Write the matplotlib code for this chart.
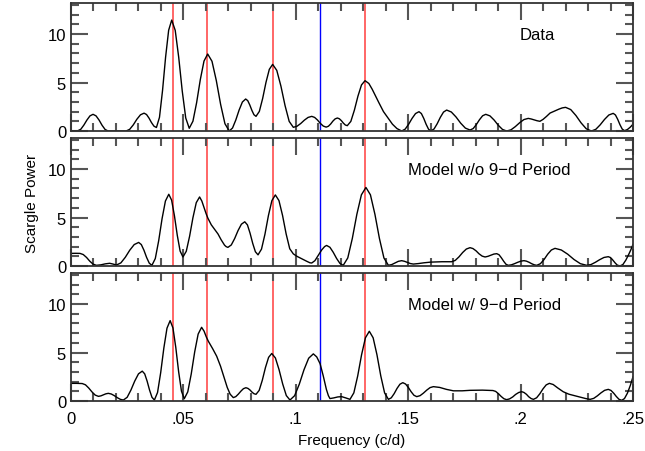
import matplotlib
matplotlib.use("Agg")
import matplotlib.pyplot as plt
from matplotlib.ticker import MultipleLocator, FixedFormatter, FixedLocator

plt.rcParams['font.family'] = ['Liberation Sans', 'DejaVu Sans']

# frequency (c/d) / Scargle power pairs
data_pts = [
    (0.000, 0.03), (0.003, 0.02), (0.00436, 0.18), (0.00572, 0.61), (0.00708, 1.13),
    (0.00844, 1.56), (0.0098, 1.72), (0.01114, 1.56), (0.01248, 1.13), (0.01382, 0.59),
    (0.01516, 0.16), (0.0165, 0.0), (0.0245, 0.0), (0.0261, 0.17), (0.0277, 0.63),
    (0.0293, 1.21), (0.0309, 1.67), (0.0325, 1.84), (0.0336, 1.70), (0.0347, 1.33),
    (0.0358, 0.87), (0.0369, 0.50), (0.038, 0.36), (0.03936, 1.41), (0.04072, 4.18),
    (0.04208, 7.62), (0.04344, 10.39), (0.0448, 11.44), (0.04636, 10.38), (0.04792, 7.59),
    (0.04948, 4.13), (0.05104, 1.34), (0.0526, 0.28), (0.05424, 1.01), (0.05588, 2.92),
    (0.05752, 5.30), (0.05916, 7.21), (0.0608, 7.94), (0.06272, 7.19), (0.06464, 5.20),
    (0.06656, 2.74), (0.06848, 0.75), (0.0704, 0.0), (0.07186, 0.31), (0.07332, 1.14),
    (0.07478, 2.16), (0.07624, 2.99), (0.0777, 3.3), (0.07862, 3.13), (0.07954, 2.68),
    (0.08046, 2.13), (0.08138, 1.68), (0.0823, 1.51), (0.08378, 2.02), (0.08526, 3.36),
    (0.08674, 5.02), (0.08822, 6.36), (0.0897, 6.87), (0.09154, 6.25), (0.09338, 4.63),
    (0.09522, 2.62), (0.09706, 0.99), (0.0989, 0.38), (0.10054, 0.49), (0.10218, 0.77),
    (0.10382, 1.12), (0.10546, 1.40), (0.1071, 1.51), (0.10838, 1.40), (0.10966, 1.13),
    (0.11094, 0.78), (0.11222, 0.51), (0.1135, 0.40), (0.1145, 0.49), (0.1155, 0.72),
    (0.1165, 1.02), (0.1175, 1.25), (0.1185, 1.34), (0.11938, 1.26), (0.12026, 1.07),
    (0.12114, 0.82), (0.12202, 0.62), (0.1229, 0.55), (0.12448, 0.99), (0.12606, 2.15),
    (0.12764, 3.59), (0.12922, 4.75), (0.1308, 5.19), (0.1325, 4.9), (0.134, 4.3),
    (0.1355, 3.6), (0.137, 2.9), (0.139, 2.0), (0.141, 1.35), (0.143, 0.7),
    (0.145, 0.25), (0.1471, 0.0), (0.14864, 0.19), (0.15018, 0.69), (0.15172, 1.30),
    (0.15326, 1.80), (0.1548, 1.99), (0.15586, 1.80), (0.15692, 1.30), (0.15798, 0.69),
    (0.15904, 0.19), (0.1601, 0.0), (0.1615, 0.21), (0.1629, 0.75), (0.1643, 1.41),
    (0.1657, 1.95), (0.1671, 2.16), (0.16918, 1.96), (0.17126, 1.45), (0.17334, 0.81),
    (0.17542, 0.30), (0.1775, 0.10), (0.1789, 0.25), (0.1803, 0.66), (0.1817, 1.16),
    (0.1831, 1.57), (0.1845, 1.72), (0.18636, 1.56), (0.18822, 1.13), (0.19008, 0.59),
    (0.19194, 0.16), (0.1938, 0.0), (0.19572, 0.12), (0.19764, 0.45), (0.19956, 0.85),
    (0.20148, 1.18), (0.2034, 1.30), (0.2047, 1.24), (0.2060, 1.15), (0.2073, 1.06),
    (0.2086, 1.0), (0.2100, 1.2), (0.2115, 1.5), (0.2131, 1.85), (0.2150, 2.05),
    (0.2170, 2.25), (0.2185, 2.38), (0.2200, 2.44), (0.2223, 2.21), (0.2246, 1.60),
    (0.2269, 0.84), (0.2292, 0.23), (0.2315, 0.0), (0.23344, 0.17), (0.23538, 0.63),
    (0.23732, 1.19), (0.23926, 1.65), (0.2412, 1.82), (0.2422, 1.65), (0.2432, 1.20),
    (0.2442, 0.65), (0.2452, 0.20), (0.2462, 0.03), (0.2475, 0.15), (0.2488, 0.4),
    (0.250, 0.7),
]

wo_pts = [
    (0.000, 1.3), (0.002, 1.31), (0.004, 1.3), (0.00546, 1.18), (0.00692, 0.88),
    (0.00838, 0.49), (0.00984, 0.19), (0.0113, 0.07), (0.0133, 0.12), (0.0152, 0.22),
    (0.0172, 0.28), (0.0187, 0.2), (0.0202, 0.1), (0.02218, 0.32), (0.02416, 0.90),
    (0.02614, 1.63), (0.02812, 2.21), (0.0301, 2.43), (0.03128, 2.21), (0.03246, 1.62),
    (0.03364, 0.88), (0.03482, 0.29), (0.036, 0.07), (0.0375, 0.77), (0.039, 2.60),
    (0.0405, 4.87), (0.042, 6.70), (0.0435, 7.4), (0.04476, 6.79), (0.04602, 5.17),
    (0.04728, 3.16), (0.04854, 1.54), (0.0498, 0.93), (0.05128, 1.52), (0.05276, 3.07),
    (0.05424, 4.98), (0.05572, 6.53), (0.0572, 7.12), (0.0582, 6.7), (0.0592, 6.0),
    (0.0601, 5.4), (0.0609, 4.93), (0.0624, 4.25), (0.0640, 3.75), (0.0654, 3.3),
    (0.0668, 2.7), (0.0683, 2.15), (0.0690, 2.0), (0.0698, 1.92), (0.0713, 2.17),
    (0.0728, 2.83), (0.0743, 3.65), (0.0758, 4.31), (0.0773, 4.56), (0.07848, 4.24),
    (0.07966, 3.38), (0.08084, 2.33), (0.08202, 1.47), (0.0832, 1.15), (0.08474, 1.74),
    (0.08628, 3.28), (0.08782, 5.20), (0.08936, 6.74), (0.0909, 7.33), (0.0925, 6.75),
    (0.0941, 5.22), (0.0957, 3.31), (0.0973, 1.78), (0.0989, 1.25), (0.1005, 1.0),
    (0.1020, 0.82), (0.1035, 0.65), (0.1050, 0.47), (0.1063, 0.33), (0.1071, 0.31),
    (0.1085, 0.55), (0.1100, 1.1), (0.1115, 1.65), (0.1128, 2.0), (0.1137, 2.12),
    (0.11518, 1.93), (0.11666, 1.41), (0.11814, 0.78), (0.11962, 0.27), (0.1211, 0.07),
    (0.12312, 0.83), (0.12514, 2.84), (0.12716, 5.33), (0.12918, 7.34), (0.1312, 8.1),
    (0.1332, 7.34), (0.1352, 5.33), (0.1372, 2.84), (0.1392, 0.83), (0.1412, 0.07),
    (0.1427, 0.15), (0.1442, 0.32), (0.1456, 0.48), (0.1471, 0.55), (0.1484, 0.48),
    (0.1497, 0.36), (0.1510, 0.25), (0.1523, 0.2), (0.1545, 0.25), (0.1570, 0.33),
    (0.1600, 0.4), (0.1650, 0.44), (0.1693, 0.44), (0.17094, 0.58), (0.17258, 0.94),
    (0.17422, 1.39), (0.17586, 1.75), (0.1775, 1.89), (0.1788, 1.8), (0.1802, 1.56),
    (0.1815, 1.26), (0.1829, 1.02), (0.1842, 0.93), (0.1855, 1.0), (0.1868, 1.12),
    (0.1881, 1.23), (0.1894, 1.27), (0.1904, 1.16), (0.1914, 0.86), (0.1925, 0.48),
    (0.1935, 0.18), (0.1945, 0.07), (0.1959, 0.12), (0.1973, 0.24), (0.1987, 0.38),
    (0.2001, 0.5), (0.2015, 0.55), (0.2026, 0.5), (0.2038, 0.38), (0.2049, 0.24),
    (0.2061, 0.12), (0.2072, 0.07), (0.20882, 0.24), (0.21044, 0.67), (0.21206, 1.22),
    (0.21368, 1.65), (0.2153, 1.82), (0.21812, 1.65), (0.22094, 1.22), (0.22376, 0.67),
    (0.22658, 0.24), (0.2294, 0.07), (0.23132, 0.15), (0.23324, 0.38), (0.23516, 0.65),
    (0.23708, 0.88), (0.239, 0.96), (0.240, 0.87), (0.241, 0.62), (0.242, 0.33),
    (0.243, 0.09), (0.2442, 0.0), (0.2455, 0.15), (0.2468, 0.6), (0.2480, 1.15),
    (0.2490, 1.65), (0.250, 2.22),
]

w_pts = [
    (0.000, 1.82), (0.0025, 1.82), (0.005, 1.8), (0.00644, 1.67), (0.00788, 1.34),
    (0.00932, 0.94), (0.01076, 0.61), (0.0122, 0.48), (0.0133, 0.53), (0.0144, 0.64),
    (0.0155, 0.74), (0.0166, 0.79), (0.01794, 0.72), (0.01928, 0.55), (0.02062, 0.34),
    (0.02196, 0.17), (0.0233, 0.1), (0.02498, 0.38), (0.02666, 1.13), (0.02834, 2.05),
    (0.03002, 2.80), (0.0317, 3.08), (0.03278, 2.80), (0.03386, 2.05), (0.03494, 1.13),
    (0.03602, 0.38), (0.0371, 0.1), (0.0385, 0.88), (0.0399, 2.93), (0.0413, 5.46),
    (0.0427, 7.51), (0.0441, 8.29), (0.04536, 7.53), (0.04662, 5.51), (0.04788, 3.02),
    (0.04914, 1.01), (0.0504, 0.24), (0.05194, 0.94), (0.05348, 2.78), (0.05502, 5.06),
    (0.05656, 6.90), (0.0581, 7.6), (0.0592, 7.2), (0.0602, 6.6), (0.0611, 6.16),
    (0.0630, 5.4), (0.0648, 4.62), (0.0665, 3.6), (0.0680, 2.5), (0.0695, 1.4),
    (0.0708, 0.7), (0.0722, 0.35), (0.0733, 0.45), (0.0744, 0.7), (0.0756, 1.02),
    (0.0767, 1.27), (0.0778, 1.37), (0.0787, 1.3), (0.0796, 1.14), (0.0805, 0.92),
    (0.0814, 0.75), (0.0823, 0.69), (0.0837, 1.09), (0.0851, 2.14), (0.0865, 3.45),
    (0.0879, 4.50), (0.0893, 4.9), (0.09092, 4.44), (0.09254, 3.24), (0.09416, 1.76),
    (0.09578, 0.56), (0.0974, 0.1), (0.09948, 0.55), (0.10156, 1.74), (0.10364, 3.22),
    (0.10572, 4.41), (0.1078, 4.86), (0.1093, 4.55), (0.1108, 3.85), (0.1122, 2.6),
    (0.1136, 1.2), (0.1145, 0.55), (0.1152, 0.25), (0.1169, 0.32), (0.1187, 0.42),
    (0.1204, 0.45), (0.1222, 0.32), (0.1241, 0.17), (0.12582, 0.84), (0.12754, 2.59),
    (0.12926, 4.77), (0.13098, 6.52), (0.1327, 7.19), (0.1344, 6.52), (0.1361, 4.77),
    (0.1378, 2.59), (0.1395, 0.84), (0.1412, 0.17), (0.14248, 0.33), (0.14376, 0.76),
    (0.14504, 1.30), (0.14632, 1.73), (0.1476, 1.89), (0.14884, 1.75), (0.15008, 1.39),
    (0.15132, 0.95), (0.15256, 0.59), (0.1538, 0.45), (0.15528, 0.55), (0.15676, 0.81),
    (0.15824, 1.12), (0.15972, 1.38), (0.1612, 1.48), (0.1640, 1.4), (0.1670, 1.2),
    (0.1701, 1.05), (0.1740, 1.05), (0.1775, 1.1), (0.1830, 1.12), (0.1877, 1.08),
    (0.1889, 0.99), (0.1901, 0.76), (0.1914, 0.46), (0.1926, 0.23), (0.1938, 0.14),
    (0.1951, 0.22), (0.1965, 0.42), (0.1978, 0.68), (0.1992, 0.88), (0.2005, 0.96),
    (0.2015, 0.88), (0.2026, 0.69), (0.2036, 0.44), (0.2047, 0.25), (0.2057, 0.17),
    (0.20712, 0.33), (0.20854, 0.74), (0.20996, 1.25), (0.21138, 1.66), (0.2128, 1.82),
    (0.2145, 1.7), (0.2165, 1.35), (0.2190, 0.95), (0.2215, 0.7), (0.2240, 0.55),
    (0.2265, 0.4), (0.2290, 0.25), (0.2309, 0.17), (0.23252, 0.27), (0.23414, 0.53),
    (0.23576, 0.84), (0.23738, 1.1), (0.239, 1.2), (0.2402, 1.09), (0.2414, 0.81),
    (0.2426, 0.46), (0.2438, 0.17), (0.245, 0.07), (0.2462, 0.25), (0.2475, 0.8),
    (0.2488, 1.6), (0.250, 2.5),
]

red_lines = [0.0452, 0.0607, 0.0900, 0.1308]
blue_line = 0.1108

panel_labels = ["Data", "Model w/o 9\u2212d Period", "Model w/ 9\u2212d Period"]
label_x = [0.1997, 0.150, 0.150]
xtick_vals = [0, 0.05, 0.1, 0.15, 0.2, 0.25]
xtick_text = ["0", ".05", ".1", ".15", ".2", ".25"]

fig = plt.figure(figsize=(6.45, 4.52), dpi=100)
left, width, height = 71 / 645, 562 / 645, 128 / 452
bottoms = [1 - 132 / 452, 1 - 267 / 452, 1 - 402 / 452]

series = [data_pts, wo_pts, w_pts]

for i, pts in enumerate(series):
    fx = [p[0] for p in pts]
    py = [p[1] for p in pts]
    ax = fig.add_axes([left, bottoms[i], width, height])
    for f in red_lines:
        ax.axvline(f, color='#ff4040', lw=1.4, alpha=0.8, zorder=1)
    ax.axvline(blue_line, color='blue', lw=1.0, zorder=1)
    ax.plot(fx, py, color='black', lw=1.0, zorder=2)
    ax.set_xlim(0, 0.25)
    ax.set_ylim(0, 13.2)
    ax.xaxis.set_major_locator(FixedLocator(xtick_vals))
    ax.xaxis.set_minor_locator(MultipleLocator(0.01))
    ax.yaxis.set_major_locator(FixedLocator([0, 5, 10]))
    ax.yaxis.set_minor_locator(MultipleLocator(1))
    ax.tick_params(which='both', direction='in', top=True, right=True,
                   color='#555555', width=1.5, labelsize=12)
    ax.tick_params(which='major', length=12)
    ax.tick_params(which='minor', length=5.5)
    ax.set_yticklabels(["0", "5", "10"])
    if i < 2:
        ax.set_xticklabels([])
    else:
        ax.xaxis.set_major_formatter(FixedFormatter(xtick_text))
        ax.tick_params(axis='x', pad=7)
    for s in ax.spines.values():
        s.set_color('#333333')
        s.set_linewidth(1.3)
    ax.text(label_x[i], 10.0, panel_labels[i], fontsize=12, va='center', ha='left')
    if i == 1:
        ax.set_ylabel("Scargle Power", fontsize=11, labelpad=6)
    if i == 2:
        ax.set_xlabel("Frequency (c/d)", fontsize=11, labelpad=5)

fig.savefig("out.png", dpi=100)
